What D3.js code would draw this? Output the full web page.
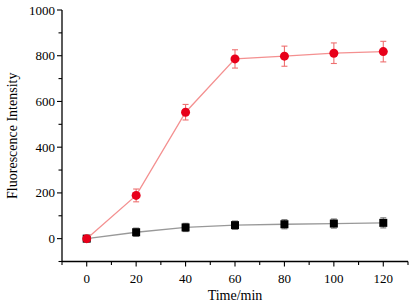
<!DOCTYPE html>
<html><head><meta charset="utf-8">
<script src="https://cdn.jsdelivr.net/npm/d3@7"></script>
<style>body{margin:0;background:#fff}svg{display:block}text{font-family:"Liberation Serif","Times New Roman",serif;fill:#000}</style>
</head><body><svg id="c" width="411" height="308"></svg>
<script>
const times = [0, 20, 40, 60, 80, 100, 120];
const redValues = [0, 189, 553, 786, 798, 811, 818];
const redErrors = [8, 28, 34, 40, 44, 45, 45];
const blackValues = [0, 28, 49, 59, 63, 66, 69];
const blackErrors = [6, 18, 18, 18, 20, 20, 22];
const xTicks = [0, 20, 40, 60, 80, 100, 120];
const yTicks = [0, 200, 400, 600, 800, 1000];

const svg = d3.select("#c");
const x = d3.scaleLinear().domain([-10, 130]).range([62, 408]);
const y = d3.scaleLinear().domain([-100, 1000]).range([261.5, 10]);

// axes
const xAxis = svg.append("g").attr("transform", `translate(0,${y(-100)})`);
xAxis.append("line").attr("x1", x(-10)).attr("x2", x(130)).attr("stroke", "#000").attr("stroke-width", 1.3);
d3.range(-10, 131, 10).forEach(v => {
  const major = v % 20 === 0;
  xAxis.append("line").attr("x1", x(v)).attr("x2", x(v)).attr("y1", 0).attr("y2", major ? 5 : 3.5).attr("stroke", "#000").attr("stroke-width", 1.1);
});
xAxis.selectAll("text.t").data(xTicks).enter().append("text").attr("class", "t")
  .attr("x", d => x(d)).attr("y", 21).attr("text-anchor", "middle").attr("font-size", 13).text(d => d);

const yAxis = svg.append("g").attr("transform", `translate(${x(-10)},0)`);
yAxis.append("line").attr("y1", y(-100)).attr("y2", y(1000)).attr("stroke", "#000").attr("stroke-width", 1.3);
d3.range(-100, 1001, 100).forEach(v => {
  const major = v % 200 === 0;
  yAxis.append("line").attr("x1", 0).attr("x2", major ? -5 : -3.5).attr("y1", y(v)).attr("y2", y(v)).attr("stroke", "#000").attr("stroke-width", 1.1);
});
yAxis.selectAll("text.t").data(yTicks).enter().append("text").attr("class", "t")
  .attr("x", -7).attr("y", d => y(d) + 4.5).attr("text-anchor", "end").attr("font-size", 13).text(d => d);

svg.append("text").attr("x", x(60)).attr("y", 300).attr("text-anchor", "middle").attr("font-size", 14).text("Time/min");
svg.append("text").attr("transform", `translate(17,${y(450)}) rotate(-90)`).attr("text-anchor", "middle").attr("font-size", 14).text("Fluorescence Intensity");

function series(vals, errs, lineColor, errColor, shape, fill) {
  const pts = times.map((t, i) => ({t, v: vals[i], e: errs[i]}));
  svg.append("path").datum(pts).attr("fill", "none").attr("stroke", lineColor).attr("stroke-width", 1.3)
    .attr("d", d3.line().x(d => x(d.t)).y(d => y(d.v)));
  const g = svg.append("g");
  pts.forEach(d => {
    g.append("line").attr("x1", x(d.t)).attr("x2", x(d.t)).attr("y1", y(d.v - d.e)).attr("y2", y(d.v + d.e)).attr("stroke", errColor).attr("stroke-width", 1.1);
    [d.v - d.e, d.v + d.e].forEach(w => g.append("line").attr("x1", x(d.t) - 3).attr("x2", x(d.t) + 3).attr("y1", y(w)).attr("y2", y(w)).attr("stroke", errColor).attr("stroke-width", 1.1));
  });
  pts.forEach(d => {
    if (shape === "circle") g.append("circle").attr("cx", x(d.t)).attr("cy", y(d.v)).attr("r", 4.5).attr("fill", fill);
    else g.append("rect").attr("x", x(d.t) - 4).attr("y", y(d.v) - 4).attr("width", 8).attr("height", 8).attr("fill", fill);
  });
}
series(blackValues, blackErrors, "#999999", "#777777", "square", "#000000");
series(redValues, redErrors, "#f49090", "#ee7070", "circle", "#e8001a");
</script></body></html>
